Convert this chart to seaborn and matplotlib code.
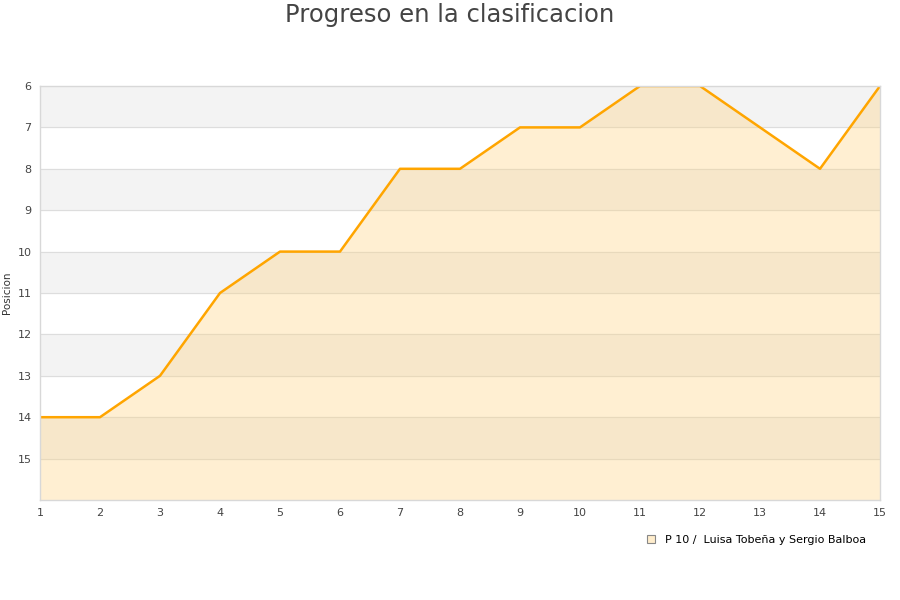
import matplotlib.pyplot as plt
import seaborn as sns
import pandas as pd

jornadas = list(range(1, 16))
posiciones = [14, 14, 13, 11, 10, 10, 8, 8, 7, 7, 6, 6, 7, 8, 6]
etiqueta = 'P 10 /  Luisa Tobeña y Sergio Balboa'

df = pd.DataFrame({'Jornada': jornadas, 'Posicion': posiciones})

sns.set_style('white')
plt.rcParams['font.family'] = ['DejaVu Sans']

fig = plt.figure(figsize=(9, 6), dpi=100)
ax = fig.add_axes([40 / 900, 1 - 500 / 600, 840 / 900, 414 / 600])

# bandas grises alternas
for y in range(6, 16, 2):
    ax.axhspan(y, y + 1, color='#f3f3f3', zorder=0)
for y in range(7, 16):
    ax.axhline(y, color='#dddddd', lw=0.8, zorder=0.5)

ax.fill_between(df['Jornada'], df['Posicion'], 16, color='#ffd27f', alpha=0.35,
                lw=0, zorder=1)
sns.lineplot(data=df, x='Jornada', y='Posicion', color='#ffa500', lw=1.8, ax=ax,
             zorder=2, label=etiqueta)

ax.set_xlim(1, 15)
ax.set_ylim(16, 6)
ax.set_xticks(jornadas)
ax.set_yticks(range(6, 16))
ax.tick_params(length=0, labelsize=8, colors='#444444', pad=6)
ax.set_xlabel('')
ax.set_ylabel('Posicion', fontsize=7.5, color='#333333', labelpad=4)
for s in ax.spines.values():
    s.set_color('#d8d8d8')
    s.set_linewidth(1)

leg = ax.legend(handles=[plt.Rectangle((0, 0), 1, 1, fc='#ffedcc', ec='#888888', lw=0.8)],
                labels=[etiqueta], loc='upper right', bbox_to_anchor=(0.995, -0.06),
                frameon=False, fontsize=8, handlelength=0.7, handleheight=0.7,
                handletextpad=0.9, labelcolor='black')

fig.text(0.5, 0.995, 'Progreso en la clasificacion', ha='center', va='top',
         fontsize=17.5, color='#444444')

fig.savefig('out.png', dpi=100)
